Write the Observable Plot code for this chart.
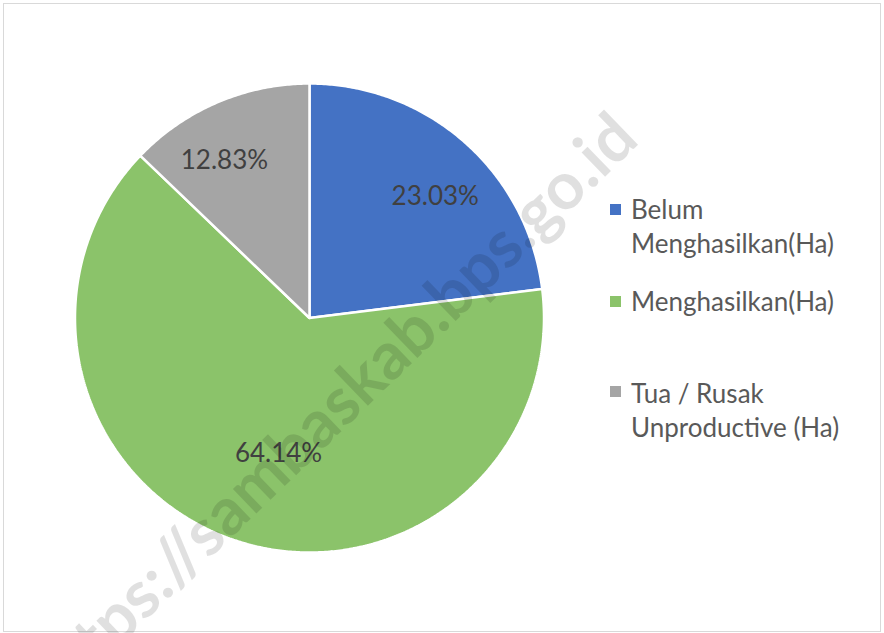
<!DOCTYPE html>
<html><head><meta charset="utf-8">
<script src="https://cdn.jsdelivr.net/npm/d3@7"></script>
<script src="https://cdn.jsdelivr.net/npm/@observablehq/plot@0.6"></script>
<style>
html,body{margin:0;padding:0;background:#fff;}
#chart{position:relative;width:884px;height:633px;overflow:hidden;font-family:Lato,"Open Sans",sans-serif;}
#chart > svg{display:block;}
#frame{position:absolute;left:3px;top:3px;width:876px;height:627px;border:1px solid #d9d9d9;box-sizing:content-box;pointer-events:none;}
#legend{position:absolute;left:610px;top:196px;color:#595959;font-size:26px;}
.li{position:absolute;left:0;white-space:nowrap;}
.sw{position:absolute;left:0;width:11px;height:11px;}
.tx{position:absolute;left:21px;line-height:34px;}
#wm{position:absolute;left:0;top:0;pointer-events:none;}
</style></head><body><div id="chart"></div>
<script>
// ---- data ----
const categories = ["Belum Menghasilkan(Ha)", "Menghasilkan(Ha)", "Tua / Rusak Unproductive (Ha)"];
const legendLines = [["Belum", "Menghasilkan(Ha)"], ["Menghasilkan(Ha)"], ["Tua / Rusak", "Unproductive (Ha)"]];
const shares = [23.03, 64.14, 12.83];
const labels = ["23.03%", "64.14%", "12.83%"];
const colors = ["#4472C4", "#8BC36A", "#A5A5A5"];
const watermark = "https://sambaskab.bps.go.id";

// ---- layout ----
const W = 884, H = 633, CX = 309, CY = 317.5, R = 234.5;
const labelRadius = [0.746, 0.593, 0.763];
const labelShiftDeg = [4.5, -5.5, -5.3];
const legendTops = [0, 92, 184];

const arcs = d3.pie().sort(null)(shares);
const pts = [];
arcs.forEach((a, i) => {
  pts.push({cat: categories[i], x: 0, y: 0});
  const n = Math.max(2, Math.ceil((a.endAngle - a.startAngle) / (Math.PI / 360)));
  for (let k = 0; k <= n; k++) {
    const t = a.startAngle + (a.endAngle - a.startAngle) * k / n;
    pts.push({cat: categories[i], x: Math.sin(t), y: Math.cos(t)});
  }
  pts.push({cat: categories[i], x: 0, y: 0});
});
const labelData = arcs.map((a, i) => {
  const t = (a.startAngle + a.endAngle) / 2 + labelShiftDeg[i] * Math.PI / 180;
  return {text: labels[i], x: labelRadius[i] * Math.sin(t), y: labelRadius[i] * Math.cos(t)};
});

const chart = Plot.plot({
  width: W, height: H,
  margin: 0,
  x: {domain: [-CX / R, (W - CX) / R], range: [0, W], axis: null},
  y: {domain: [-(H - CY) / R, CY / R], range: [H, 0], axis: null},
  color: {domain: categories, range: colors},
  style: {fontFamily: "Lato, 'Open Sans', sans-serif", background: "transparent"},
  marks: [
    Plot.line(pts, {x: "x", y: "y", z: "cat", fill: "cat", stroke: "white", strokeWidth: 2.5, strokeLinejoin: "miter", curve: "linear"}),
    Plot.text(labelData, {x: "x", y: "y", text: "text", fill: "#404040", fontSize: 26})
  ]
});
const root = document.getElementById("chart");
root.appendChild(chart);

const frame = document.createElement("div"); frame.id = "frame"; root.appendChild(frame);

const legend = document.createElement("div"); legend.id = "legend";
categories.forEach((c, i) => {
  const li = document.createElement("div"); li.className = "li"; li.style.top = legendTops[i] + "px";
  const sw = document.createElement("div"); sw.className = "sw"; sw.style.background = colors[i]; sw.style.top = (i === 2 ? 6 : 8) + "px";
  const tx = document.createElement("div"); tx.className = "tx"; tx.style.top = "-4.5px";
  tx.innerHTML = legendLines[i].join("<br>");
  li.appendChild(sw); li.appendChild(tx); legend.appendChild(li);
});
root.appendChild(legend);

// watermark overlay
const wm = d3.select(root).append("svg").attr("id", "wm").attr("width", W).attr("height", H);
wm.append("text")
  .attr("transform", "translate(641,142) rotate(-44)")
  .attr("text-anchor", "end")
  .attr("font-family", "Lato, 'Open Sans', sans-serif")
  .attr("font-weight", "bold")
  .attr("font-size", 66)
  .attr("fill", "#000")
  .attr("fill-opacity", 0.12)
  .text(watermark);
</script></body></html>
